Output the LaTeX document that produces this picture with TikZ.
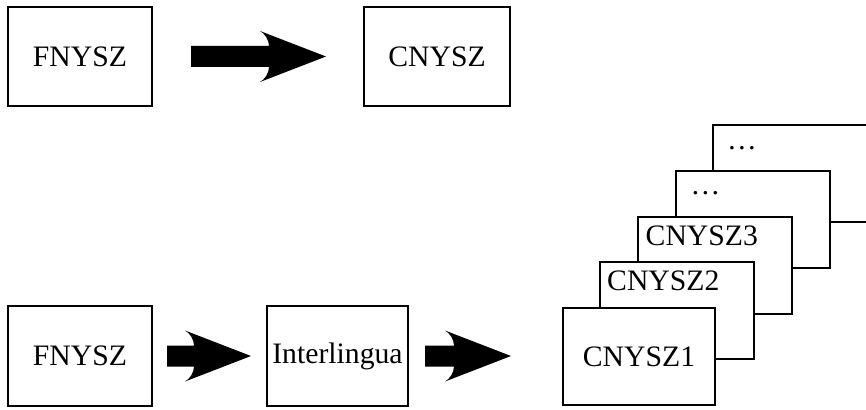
\documentclass[tikz,border=0pt]{standalone}
\usepackage{fontspec}
\setmainfont{Liberation Serif}
\usetikzlibrary{calc}
\begin{document}
\begin{tikzpicture}[x=1pt,y=-1pt,
  box/.style={draw,line width=2pt,fill=white,minimum width=#1,minimum height=99pt,inner sep=0pt,font=\fontsize{29.7}{34}\selectfont},
  box/.default=144pt,
  lbl/.style={anchor=base west,inner sep=0pt,font=\fontsize{29.7}{34}\selectfont},
  fat/.style={to path={let \p1=(\tikztostart), \p2=(\tikztotarget) in
    (\x1,\y1+10.5pt) -- (\x2-57pt,\y1+10.5pt)
    .. controls (\x2-57pt,\y1+16pt) and (\x2-61pt,\y1+23pt) .. (\x2-66pt,\y1+25.5pt)
    -- (\x2,\y1) -- (\x2-66pt,\y1-25.5pt)
    .. controls (\x2-61pt,\y1-23pt) and (\x2-57pt,\y1-16pt) .. (\x2-57pt,\y1-10.5pt)
    -- (\x1,\y1-10.5pt) -- cycle}}
]
\useasboundingbox (0,0) rectangle (866,409);
\clip (0,0) rectangle (866,409);
% top row
\node[box=144pt] (f1) at (80,56.5) {FNYSZ};
\node[box=146pt] (c1) at (437,56.5) {CNYSZ};
\fill ([xshift=38pt]f1.east) to[fat] ([xshift=-37pt]c1.west);
% bottom row
\node[box=144pt,minimum height=100pt] (f2) at (80,356) {FNYSZ};
\node[box=141pt,minimum height=100pt] (il) at (337.5,356) {Interlingua};
% stack
\node[box=154pt,minimum height=97pt] (s5) at (790,173.5) {};
\node[box=154pt,minimum height=97pt] (s4) at (752.5,219.5) {};
\node[box=154pt,minimum height=97pt] (s3) at (714.5,265) {};
\node[box=154pt,minimum height=97pt] (s2) at (677,310) {};
\node[box=152pt,minimum height=97pt] (s1) at (639,356.5) {CNYSZ1};
\node[lbl] (t5) at ([xshift=15pt,yshift=-25pt]s5.north west) {\ldots};
\node[lbl] (t4) at ([xshift=16pt,yshift=-24.5pt]s4.north west) {\ldots};
\node[lbl] (t3) at ([xshift=9pt,yshift=-30pt]s3.north west) {CNYSZ3};
\node[lbl] (t2) at ([xshift=8pt,yshift=-30pt]s2.north west) {CNYSZ2};
\fill ([xshift=14pt]f2.east) to[fat] ([xshift=-15pt]il.west);
\fill ([xshift=16pt]il.east) to[fat] ([xshift=-51pt]s1.west);
\end{tikzpicture}
\end{document}
